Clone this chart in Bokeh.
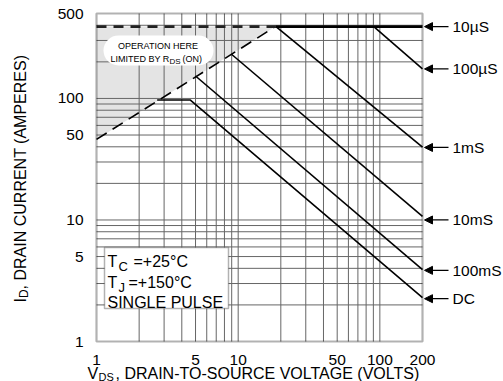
import math
from bokeh.plotting import figure
from bokeh.models import Range1d, BoxAnnotation, Label, Arrow, NormalHead
from bokeh.core.properties import value
from bokeh.embed import file_html
from bokeh.resources import INLINE

# ---------------- data ----------------
x_ticks = [1, 5, 10, 50, 100, 200]
y_ticks = [1, 5, 10, 50, 100, 500]
x_grid = [2, 3, 4, 5, 6, 7, 8, 9, 10, 20, 30, 40, 50, 60, 70, 80, 90, 100]
y_grid = [2, 3, 4, 5, 6, 7, 8, 9, 10, 20, 30, 40, 50, 60, 70, 80, 90,
          100, 200, 300, 400]

rds_v = [1, 18.3]
rds_i = [46, 390]
lim_v = [1, 18.3]
lim_i = [390, 390]
us10_v = [18.3, 200]
us10_i = [390, 390]
us100_v = [90.6, 200]
us100_i = [390, 175]
ms1_v = [18.5, 200]
ms1_i = [390, 39.7]
ms10_v = [8.97, 200]
ms10_i = [231, 10.7]
ms100_v = [5.0, 200]
ms100_i = [153, 3.9]
dc_v = [2.68, 4.6, 200]
dc_i = [97, 97, 2.3]

curve_labels = ["10\u00b5S", "100\u00b5S", "1mS", "10mS", "100mS", "DC"]
arrow_i = [390, 175, 39.5, 10, 3.85, 2.25]

# ---------------- layout (canvas pixels) ----------------
W, H = 503, 381
PL, PR, PT, PB = 96, 422, 13, 341          # plot box on the canvas
XMIN, XMAX, YMIN, YMAX = 1, 200, 1, 500
FONT = "Liberation Sans"
LX = math.log10(XMAX) - math.log10(XMIN)
LY = math.log10(YMAX) - math.log10(YMIN)


def px2x(px):
    return 10 ** (math.log10(XMIN) + (px - PL) / (PR - PL) * LX)


def py2y(py):
    return 10 ** (math.log10(YMIN) + (PB - py) / (PB - PT) * LY)


p = figure(width=W, height=H, x_axis_type="log", y_axis_type="log",
           x_range=Range1d(px2x(0), px2x(W)), y_range=Range1d(py2y(H), py2y(0)),
           output_backend="svg", toolbar_location=None, title=None,
           x_axis_location=None, y_axis_location=None, min_border=0)
p.background_fill_color = "white"
p.border_fill_color = "white"
p.outline_line_color = None
p.grid.visible = False

# shaded R_DS(on)-limited region (under grid)
p.patch([rds_v[0], rds_v[1], lim_v[0]], [rds_i[0], rds_i[1], lim_i[0]],
        fill_color="#e4e4e4", line_color=None)

# grid
GRID = "#666666"
p.multi_line(xs=[[g, g] for g in x_grid], ys=[[YMIN, YMAX] for _ in x_grid],
             line_color=GRID, line_width=1)
p.multi_line(xs=[[XMIN, XMAX] for _ in y_grid], ys=[[g, g] for g in y_grid],
             line_color=GRID, line_width=1)

# curves
p.line(rds_v, rds_i, line_color="black", line_width=1.6, line_dash="12 7")
p.line(lim_v, lim_i, line_color="#222222", line_width=2.6, line_dash="10 7")
p.line(us10_v, us10_i, line_color="black", line_width=2.6)
for v, i in ((us100_v, us100_i), (ms1_v, ms1_i), (ms10_v, ms10_i),
             (ms100_v, ms100_i), (dc_v, dc_i)):
    p.line(v, i, line_color="black", line_width=1.6)

# tick labels
p.text(x=x_ticks, y=[py2y(359)] * len(x_ticks), text=[str(t) for t in x_ticks],
       text_font=value(FONT), text_font_size="15.5px", text_color="black",
       text_align="center", text_baseline="alphabetic")
p.text(x=[px2x(83)] * len(y_ticks), y=y_ticks, text=[str(t) for t in y_ticks],
       text_font=value(FONT), text_font_size="15.5px", text_color="black",
       text_align="right", text_baseline="middle")

# plot border
p.add_layout(BoxAnnotation(left=XMIN, right=XMAX, bottom=YMIN, top=YMAX,
                           fill_color=None, fill_alpha=0, line_color="black",
                           line_width=2.2))

# "OPERATION HERE" rounded white box and text
p.add_layout(BoxAnnotation(left=px2x(103), right=px2x(213), top=py2y(35), bottom=py2y(65),
                           fill_color="white", fill_alpha=1, line_color=None,
                           border_radius=15))


def lab(px, py, text, size, align="left", baseline="alphabetic", angle=0.0):
    p.add_layout(Label(x=px2x(px), y=py2y(py), text=text, text_font=FONT,
                       text_font_size=size, text_color="black",
                       text_align=align, text_baseline=baseline, angle=angle))


lab(157.5, 45, "OPERATION HERE", "9px", align="center")
lab(110, 58, "LIMITED BY R", "9px")
lab(169, 61, "DS", "8px")
lab(182, 58, "(ON)", "9px")

# conditions box
p.add_layout(BoxAnnotation(left=px2x(104), right=px2x(228), top=py2y(247), bottom=py2y(308),
                           fill_color="white", fill_alpha=1, line_color="black",
                           line_width=1.5))
lab(107, 261, "T", "16px")
lab(118, 266, "C", "13px")
lab(133, 261, "=+25\u00b0C", "16px")
lab(107, 282, "T", "16px")
lab(118, 287, "J", "13px")
lab(128, 282, "=+150\u00b0C", "16px")
lab(107, 302, "SINGLE PULSE", "16px")

# right-hand arrows and labels
for text, ai in zip(curve_labels, arrow_i):
    p.add_layout(Arrow(end=NormalHead(size=8, line_color="black", fill_color="black", line_width=1),
                       x_start=px2x(448), y_start=ai, x_end=px2x(424), y_end=ai,
                       line_color="black", line_width=1.3))
    p.add_layout(Label(x=px2x(452), y=ai, text=text, text_font=FONT,
                       text_font_size="15.5px", text_color="black",
                       text_baseline="middle"))

# axis titles (with subscripts)
lab(20, 302, "I", "16px", angle=math.pi / 2)
lab(23, 297.6, "D", "12px", angle=math.pi / 2)
lab(20, 288.9, ", DRAIN CURRENT (AMPERES)", "16px", angle=math.pi / 2)

lab(87, 373, "V", "16px")
lab(98, 376, "DS", "11px")
lab(115, 373, ", DRAIN-TO-SOURCE VOLTAGE (VOLTS)", "16px")

open("out.html", "w").write(file_html(p, INLINE))
